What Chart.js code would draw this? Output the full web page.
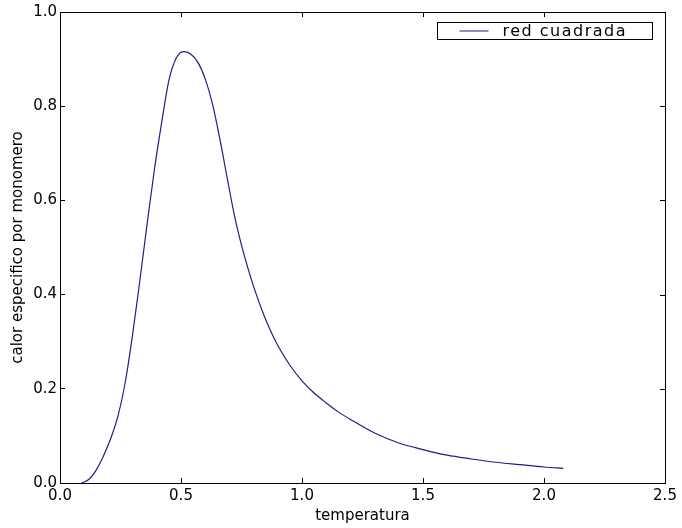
<!DOCTYPE html>
<html><head><meta charset="utf-8">
<script src="https://cdn.jsdelivr.net/npm/chart.js@4/dist/chart.umd.min.js"></script>
<style>html,body{margin:0;padding:0;background:#fff}#wrap{width:682px;height:528px}</style>
</head><body><div id="wrap"><canvas id="c" width="682" height="528"></canvas></div>
<script>
const temperatura = [0.09,0.12,0.15,0.18,0.21,0.24,0.27,0.30,0.33,0.36,0.39,0.42,0.45,0.48,0.51,0.54,0.57,0.60,0.63,0.66,0.69,0.72,0.75,0.78,0.81,0.84,0.87,0.90,0.95,1.00,1.05,1.10,1.15,1.20,1.30,1.40,1.50,1.60,1.70,1.80,1.90,2.00,2.08];
const calorEspecifico = [0.000,0.008,0.028,0.058,0.095,0.143,0.215,0.315,0.430,0.550,0.665,0.765,0.855,0.902,0.916,0.911,0.893,0.858,0.805,0.732,0.650,0.570,0.505,0.450,0.402,0.360,0.323,0.292,0.250,0.217,0.191,0.170,0.151,0.135,0.106,0.085,0.071,0.059,0.051,0.044,0.039,0.034,0.031];
const xTicks = [0.0,0.5,1.0,1.5,2.0,2.5];
const yTicks = [0.0,0.2,0.4,0.6,0.8,1.0];
const seriesLabel = 'red cuadrada';
const xTitle = 'temperatura';
const yTitle = 'calor especifico por monomero';

const lineColor = '#1e1e8a';
const FONT = 'DejaVu Sans';

const framePlugin = {
  id: 'frame',
  afterDatasetsDraw(chart) {
    const {ctx, chartArea: a, scales} = chart;
    ctx.save();
    ctx.strokeStyle = '#000';
    ctx.lineWidth = 1;
    ctx.strokeRect(Math.round(a.left) + 0.5, Math.round(a.top) + 0.5, Math.round(a.right - a.left), Math.round(a.bottom - a.top));
    ctx.beginPath();
    xTicks.forEach(v => {
      const px = Math.round(scales.x.getPixelForValue(v)) + 0.5;
      ctx.moveTo(px, a.top); ctx.lineTo(px, a.top + 5);
    });
    yTicks.forEach(v => {
      const py = Math.round(scales.y.getPixelForValue(v)) + 0.5;
      ctx.moveTo(a.right, py); ctx.lineTo(a.right - 5, py);
    });
    ctx.stroke();
    ctx.restore();
  },
  afterDraw(chart) {
    const {ctx, chartArea: a} = chart;
    const ds = chart.data.datasets[0];
    const bx = Math.round(a.right - 228) + 0.5, by = Math.round(a.top + 10) + 0.5, bw = 215, bh = 17;
    ctx.save();
    ctx.fillStyle = '#fff';
    ctx.fillRect(bx, by, bw, bh);
    ctx.strokeStyle = '#000';
    ctx.lineWidth = 1;
    ctx.strokeRect(bx, by, bw, bh);
    ctx.strokeStyle = ds.borderColor;
    ctx.beginPath();
    ctx.moveTo(bx + 22, by + 8.5); ctx.lineTo(bx + 51, by + 8.5);
    ctx.stroke();
    ctx.fillStyle = '#000';
    ctx.font = '16px "' + FONT + '"';
    ctx.textBaseline = 'middle';
    try { ctx.letterSpacing = '1.5px'; } catch (e) {}
    ctx.fillText(ds.label, bx + 65, by + 9);
    ctx.restore();
  }
};

new Chart(document.getElementById('c'), {
  type: 'line',
  data: {
    datasets: [{
      label: seriesLabel,
      data: temperatura.map((t, i) => ({x: t, y: calorEspecifico[i]})),
      borderColor: lineColor,
      borderWidth: 1.2,
      pointRadius: 0,
      cubicInterpolationMode: 'monotone',
      fill: false
    }]
  },
  options: {
    responsive: false,
    animation: false,
    devicePixelRatio: 1,
    layout: {padding: {top: 12, right: 17, left: 0, bottom: 0}},
    plugins: {legend: {display: false}, tooltip: {enabled: false}},
    scales: {
      x: {
        type: 'linear', min: 0, max: 2.5,
        afterBuildTicks: s => { s.ticks = xTicks.map(v => ({value: v})); },
        afterFit: s => { s.height = 45; s.paddingLeft = 0; s.paddingRight = 0; },
        grid: {drawOnChartArea: false, tickLength: -5, color: '#000'},
        border: {color: '#000'},
        ticks: {padding: 9, color: '#000', autoSkip: false, maxRotation: 0, font: {family: FONT, size: 15}, callback: v => Number(v).toFixed(1)},
        title: {display: true, text: xTitle, color: '#000', font: {family: FONT, size: 15}, padding: {top: 0, bottom: 3}}
      },
      y: {
        type: 'linear', min: 0, max: 1.0,
        afterBuildTicks: s => { s.ticks = yTicks.map(v => ({value: v})); },
        afterFit: s => { s.width = 60; s.paddingTop = 0; s.paddingBottom = 0; },
        grid: {drawOnChartArea: false, tickLength: -5, color: '#000'},
        border: {color: '#000'},
        ticks: {padding: 8, color: '#000', autoSkip: false, font: {family: FONT, size: 15}, callback: v => Number(v).toFixed(1)},
        title: {display: true, text: yTitle, color: '#000', font: {family: FONT, size: 15}, padding: {top: 9, bottom: 0}}
      }
    }
  },
  plugins: [framePlugin]
});
</script>
</body></html>
